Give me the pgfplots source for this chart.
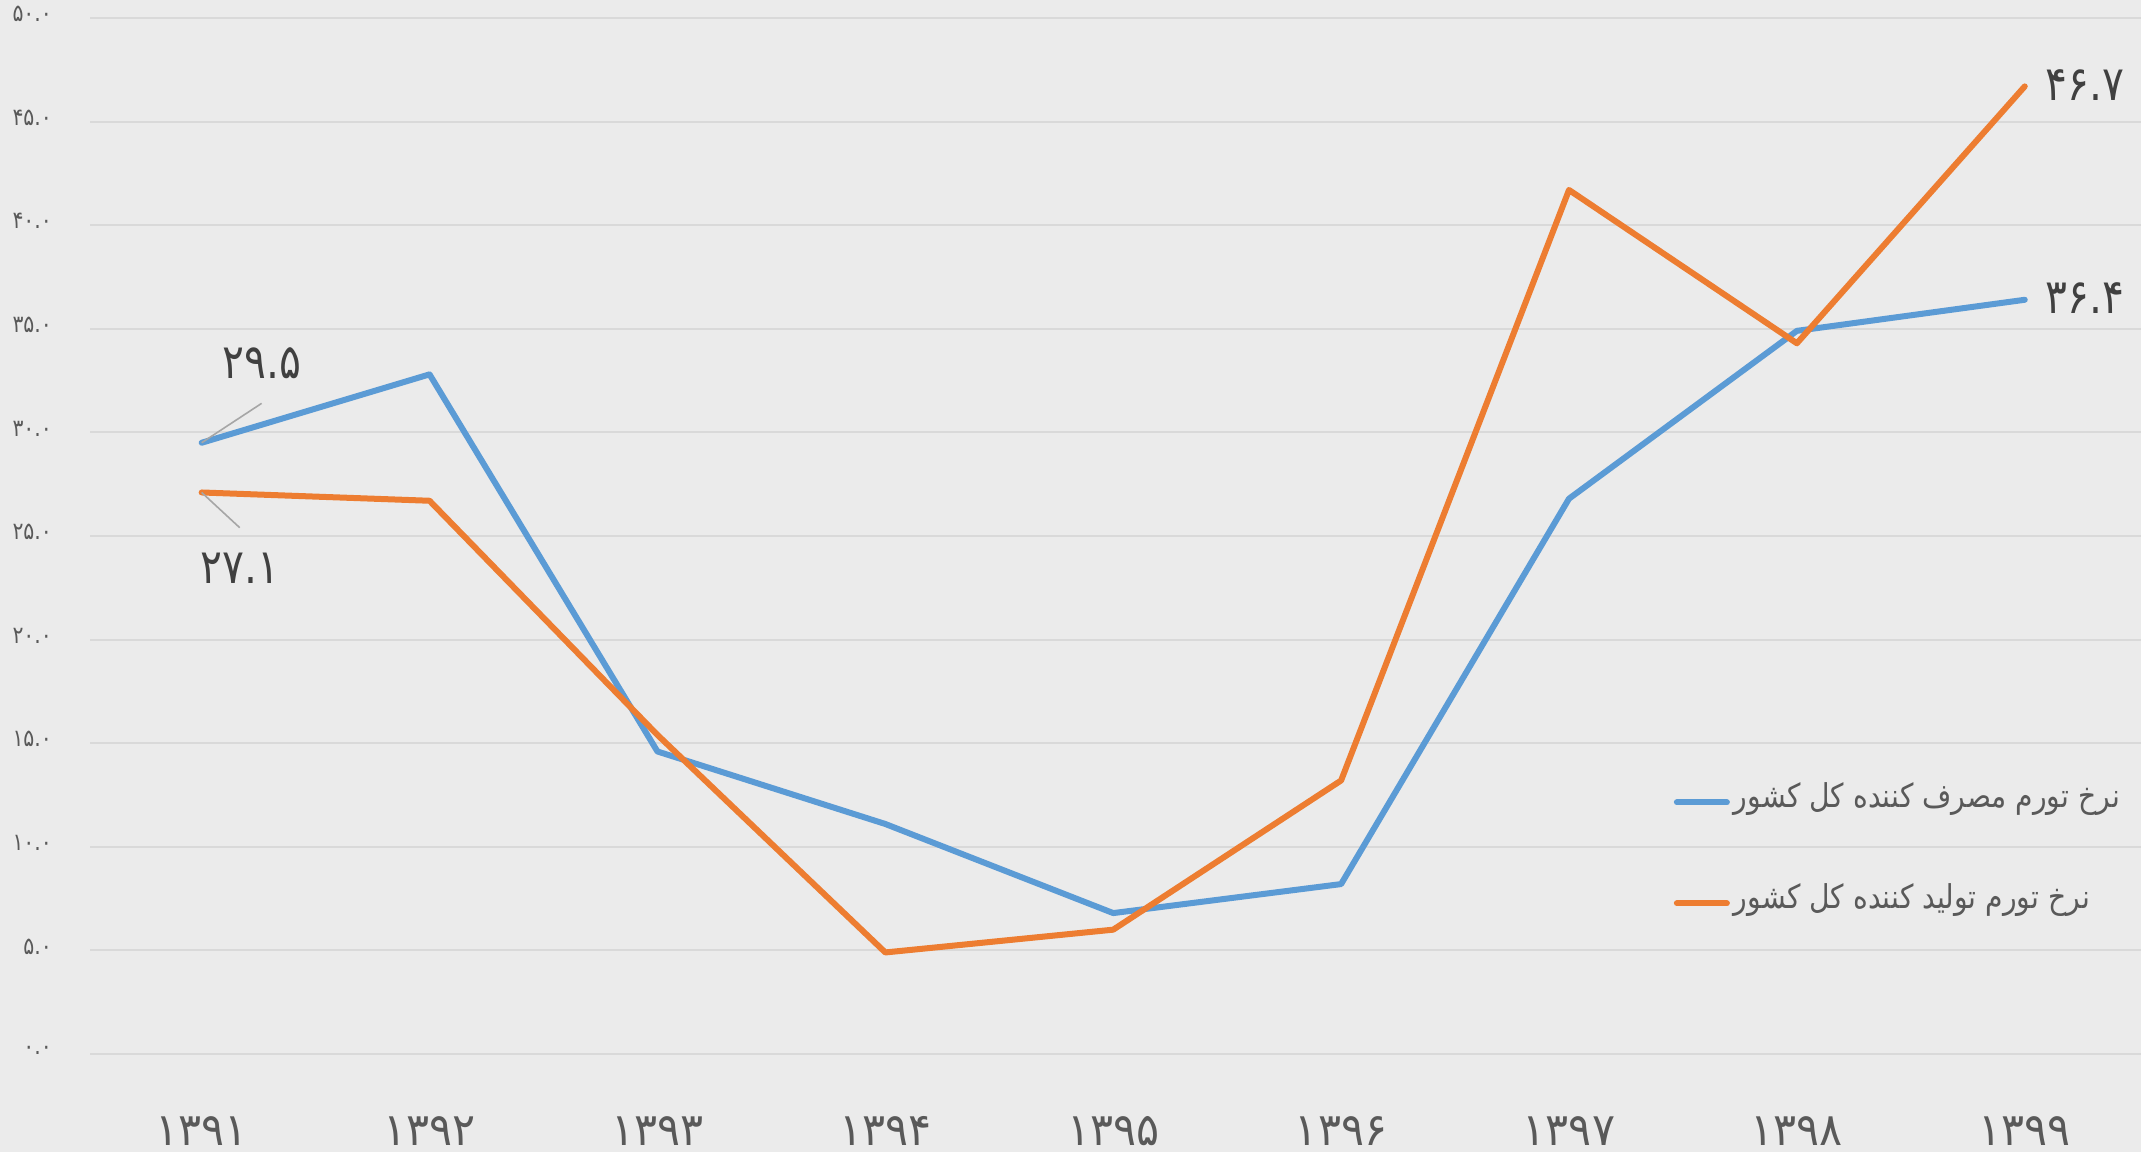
\documentclass[border=0pt]{standalone}
\usepackage{fontspec}
\usepackage{pgfplots}
\pgfplotsset{compat=1.18}
\TeXXeTstate=1
\newfontfamily\arabicfont[Script=Arabic,FakeStretch=0.86]{DejaVu Sans}
\newfontfamily\digitfont[Script=Arabic,FakeStretch=0.85]{DejaVu Sans}
\newfontfamily\yearfont[Script=Arabic,FakeStretch=0.95]{DejaVu Sans}
\definecolor{bgc}{HTML}{EBEBEB}
\definecolor{gridc}{HTML}{D9D9D9}
\definecolor{cpi}{HTML}{5B9BD5}
\definecolor{ppi}{HTML}{ED7D31}
\definecolor{txt}{HTML}{595959}
\definecolor{lbl}{HTML}{404040}

\begin{document}
\begin{tikzpicture}
\fill[bgc] (0,0) rectangle (535.25pt,288pt);
\begin{axis}[
    at={(22.5pt,24.5pt)}, anchor=south west,
    scale only axis,
    width=512.75pt, height=259pt,
    xmin=-0.49, xmax=8.51,
    ymin=0, ymax=50,
    axis line style={draw=none},
    tick style={draw=none},
    xtick={0,...,8},
    xticklabels={۱۳۹۱,۱۳۹۲,۱۳۹۳,۱۳۹۴,۱۳۹۵,۱۳۹۶,۱۳۹۷,۱۳۹۸,۱۳۹۹},
    xticklabel style={font=\yearfont\fontsize{11.3}{12}\selectfont, text=txt, yshift=-12pt},
    ytick={0,5,...,50},
    yticklabels={۰.۰,۵.۰,۱۰.۰,۱۵.۰,۲۰.۰,۲۵.۰,۳۰.۰,۳۵.۰,۴۰.۰,۴۵.۰,۵۰.۰},
    yticklabel style={font=\digitfont\fontsize{6}{7}\selectfont, text=txt, xshift=-6pt, yshift=1pt},
    ymajorgrids,
    grid style={gridc, line width=0.5pt},
    clip=false,
    legend cell align=left,
    legend style={at={(0.766,0.198)}, anchor=west, draw=none, fill=none,
        font=\arabicfont\fontsize{8.2}{10}\selectfont, text=txt, row sep=13.5pt,
        nodes={inner xsep=1pt}},
    legend image code/.code={\draw[#1, line width=1.5pt, line cap=round] (0pt,-1pt) -- (12.5pt,-1pt);},
]
\addplot[cpi, line width=1.5pt, line cap=round, line join=round] coordinates {
    (0,29.5) (1,32.8) (2,14.6) (3,11.1) (4,6.8) (5,8.2) (6,26.8) (7,34.9) (8,36.4)
};
\addlegendentry{\beginR نرخ تورم مصرف کننده کل کشور\endR}
\addplot[ppi, line width=1.5pt, line cap=round, line join=round] coordinates {
    (0,27.1) (1,26.7) (2,15.4) (3,4.9) (4,6.0) (5,13.2) (6,41.7) (7,34.3) (8,46.7)
};
\addlegendentry{\beginR نرخ تورم تولید کننده کل کشور\endR}
\draw[gray!70, line width=0.4pt] (axis cs:0,29.5) -- (axis cs:0.263,31.4);
\draw[gray!70, line width=0.4pt] (axis cs:0,27.1) -- (axis cs:0.167,25.4);
\node[font=\digitfont\fontsize{12}{13}\selectfont, text=lbl] at (axis cs:0.263,33.35) {۲۹.۵};
\node[font=\digitfont\fontsize{12}{13}\selectfont, text=lbl] at (axis cs:0.167,23.45) {۲۷.۱};
\node[font=\digitfont\fontsize{12}{13}\selectfont, text=lbl] at (axis cs:8.263,46.77) {۴۶.۷};
\node[font=\digitfont\fontsize{12}{13}\selectfont, text=lbl] at (axis cs:8.263,36.49) {۳۶.۴};
\end{axis}
\pgfresetboundingbox
\path (0,0) rectangle (535.25pt,288pt);
\end{tikzpicture}
\end{document}
